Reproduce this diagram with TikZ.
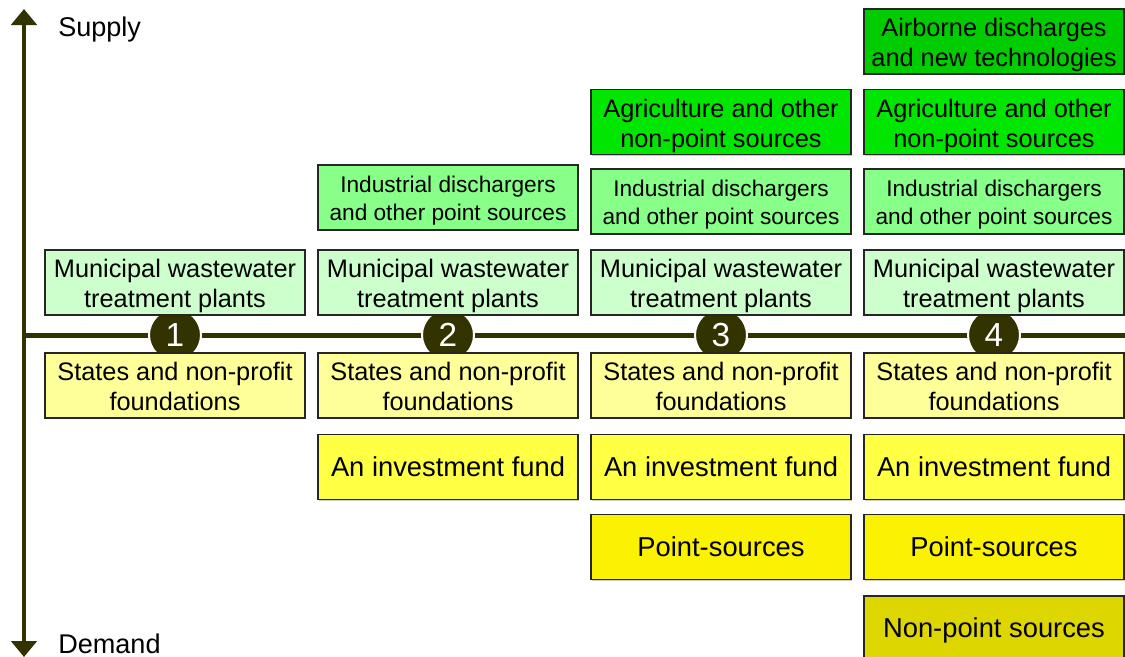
\documentclass[tikz,border=0pt]{standalone}
\usepackage{fontspec}
\setmainfont{Liberation Sans}
\usetikzlibrary{arrows.meta,shadows}
\definecolor{axiscol}{HTML}{333300}
\definecolor{muni}{HTML}{CCFFCC}
\definecolor{indus}{HTML}{88FF88}
\definecolor{agri}{HTML}{00E600}
\definecolor{air}{HTML}{00CC00}
\definecolor{states}{HTML}{FFFF99}
\definecolor{invest}{HTML}{FFFF44}
\definecolor{point}{HTML}{FAF200}
\definecolor{nonpoint}{HTML}{DED600}
\begin{document}
\begin{tikzpicture}[x=0.75pt,y=-0.75pt,
	box/.style={draw=black!85, line width=1pt, minimum width=195pt, minimum height=48.75pt,
		inner sep=0pt, align=center, font=\fontsize{19}{22.5}\selectfont,
		text height=41.5pt, text depth=4pt,
		drop shadow={shadow xshift=1pt, shadow yshift=-1pt, fill=black, opacity=0.2}},
	smalltext/.style={font=\fontsize{17}{21}\selectfont, text height=38pt, text depth=3.7pt},
	bigtext/.style={font=\fontsize{20.5}{24}\selectfont, text height=16.5pt, text depth=3pt},
	num/.style={circle, fill=axiscol, draw=white, line width=1.5pt, minimum size=39pt,
		inner sep=0pt, text=white, font=\fontsize{25}{25}\selectfont},
	axisline/.style={draw=axiscol, line width=3.75pt}]
	\useasboundingbox (0,0) rectangle (1125,657);

	% axes
	\coordinate (top) at (24,9);
	\coordinate (bottom) at (24,657);
	\coordinate (left) at (24,335);
	\coordinate (right) at (1125,335);
	\draw[axisline, line width=3.5pt, {Triangle[width=19pt,length=12pt]}-{Triangle[width=19pt,length=12pt]}] (top) -- (bottom);
	\draw[axisline] (left) -- (right);
	\node[anchor=base west, inner sep=0pt, font=\fontsize{20.3}{24}\selectfont] (supply) at (58,36) {Supply};
	\node[anchor=base west, inner sep=0pt, font=\fontsize{20.3}{24}\selectfont] (demand) at (58,653) {Demand};

	% stage numbers
	\node[num] (n1) at (175,335) {1};
	\node[num] (n2) at (448,335) {2};
	\node[num] (n3) at (721,335) {3};
	\node[num] (n4) at (994,335) {4};

	% stage 1
	\node[box, fill=muni] (muni1) at (175,282.5) {Municipal wastewater\\treatment plants};
	\node[box, fill=states] (states1) at (175,385.5) {States and non-profit\\foundations};

	% stage 2
	\node[box, fill=indus, smalltext] (indus2) at (448,197.5) {Industrial dischargers\\and other point sources};
	\node[box, fill=muni] (muni2) at (448,282.5) {Municipal wastewater\\treatment plants};
	\node[box, fill=states] (states2) at (448,385.5) {States and non-profit\\foundations};
	\node[box, fill=invest, bigtext] (invest2) at (448,467) {An investment fund};

	% stage 3
	\node[box, fill=agri] (agri3) at (721,122) {Agriculture and other\\non-point sources};
	\node[box, fill=indus, smalltext] (indus3) at (721,201.5) {Industrial dischargers\\and other point sources};
	\node[box, fill=muni] (muni3) at (721,282.5) {Municipal wastewater\\treatment plants};
	\node[box, fill=states] (states3) at (721,385.5) {States and non-profit\\foundations};
	\node[box, fill=invest, bigtext] (invest3) at (721,467) {An investment fund};
	\node[box, fill=point, bigtext] (point3) at (721,547) {Point-sources};

	% stage 4
	\node[box, fill=air] (air4) at (994,41.5) {Airborne discharges\\and new technologies};
	\node[box, fill=agri] (agri4) at (994,122) {Agriculture and other\\non-point sources};
	\node[box, fill=indus, smalltext] (indus4) at (994,201.5) {Industrial dischargers\\and other point sources};
	\node[box, fill=muni] (muni4) at (994,282.5) {Municipal wastewater\\treatment plants};
	\node[box, fill=states] (states4) at (994,385.5) {States and non-profit\\foundations};
	\node[box, fill=invest, bigtext] (invest4) at (994,467) {An investment fund};
	\node[box, fill=point, bigtext] (point4) at (994,547) {Point-sources};
	\node[box, fill=nonpoint, bigtext] (nonpoint4) at (994,628.5) {Non-point sources};
\end{tikzpicture}
\end{document}
